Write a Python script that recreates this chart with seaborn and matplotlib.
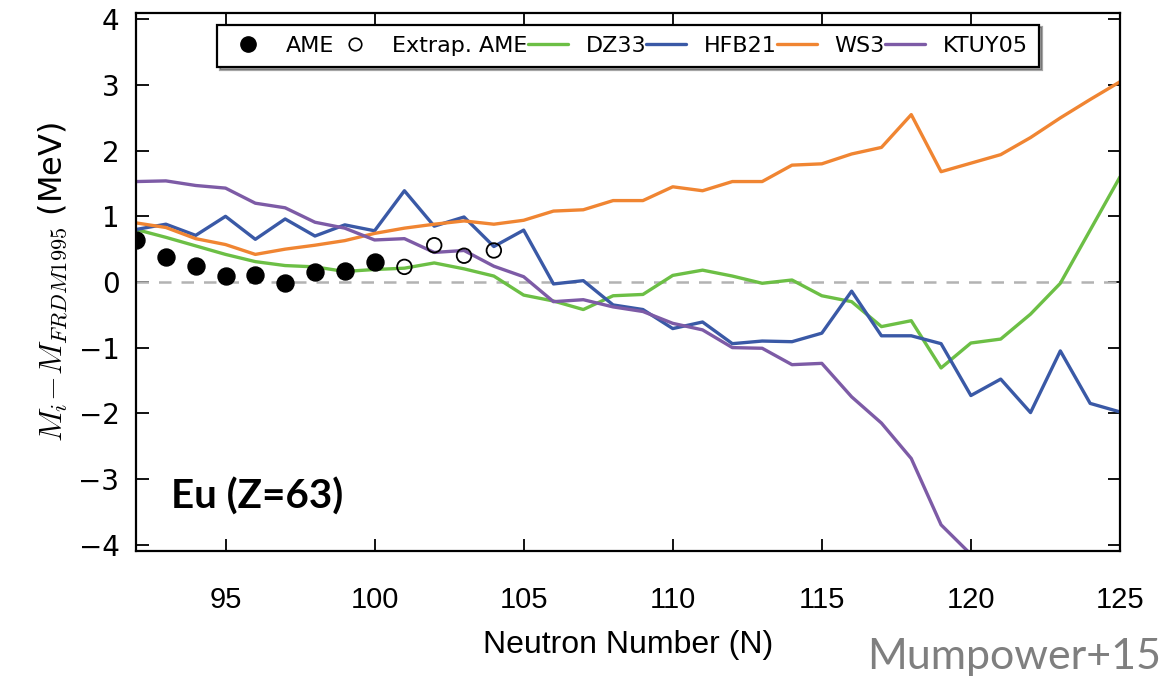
import numpy as np
import pandas as pd
import matplotlib
matplotlib.use("Agg")
import matplotlib.pyplot as plt
from matplotlib.lines import Line2D
import seaborn as sns

# Data (mass differences in MeV vs neutron number)
n_models = list(range(92, 126))
dz33 = [0.80, 0.68, 0.55, 0.42, 0.31, 0.25, 0.23, 0.16, 0.19, 0.21, 0.29, 0.20,
        0.09, -0.20, -0.29, -0.42, -0.21, -0.19, 0.10, 0.18, 0.09, -0.02, 0.03,
        -0.21, -0.30, -0.68, -0.59, -1.31, -0.93, -0.87, -0.49, -0.02, 0.79, 1.60]
hfb21 = [0.80, 0.88, 0.71, 1.00, 0.65, 0.96, 0.70, 0.87, 0.78, 1.39, 0.85, 0.99,
         0.54, 0.79, -0.03, 0.02, -0.35, -0.42, -0.71, -0.61, -0.94, -0.90, -0.91,
         -0.78, -0.14, -0.82, -0.82, -0.94, -1.73, -1.48, -1.99, -1.05, -1.85, -1.98]
ws3 = [0.90, 0.83, 0.66, 0.57, 0.42, 0.50, 0.56, 0.63, 0.74, 0.82, 0.88, 0.93,
       0.88, 0.94, 1.08, 1.10, 1.24, 1.24, 1.45, 1.39, 1.53, 1.53, 1.78, 1.80,
       1.95, 2.05, 2.55, 1.68, 1.81, 1.94, 2.20, 2.50, 2.78, 3.05]
n_ktuy = list(range(92, 121))
ktuy05 = [1.53, 1.54, 1.47, 1.43, 1.20, 1.13, 0.91, 0.82, 0.64, 0.66, 0.45, 0.48,
          0.24, 0.08, -0.30, -0.27, -0.38, -0.45, -0.63, -0.73, -1.00, -1.01,
          -1.26, -1.24, -1.75, -2.15, -2.69, -3.70, -4.15]

ame_n = list(range(92, 101))
ame_vals = [0.64, 0.38, 0.24, 0.09, 0.11, -0.01, 0.15, 0.17, 0.30]
extrap_n = [101, 102, 103, 104]
extrap_vals = [0.23, 0.56, 0.40, 0.48]

model_names = ["DZ33", "HFB21", "WS3", "KTUY05"]
colors = {"DZ33": "#6cbf45", "HFB21": "#3a59a6", "WS3": "#f08532", "KTUY05": "#7d5ba6"}

frames = []
for name, ns, vals in [("DZ33", n_models, dz33), ("HFB21", n_models, hfb21),
                       ("WS3", n_models, ws3), ("KTUY05", n_ktuy, ktuy05)]:
    frames.append(pd.DataFrame({"N": ns, "dM": vals, "model": name}))
models_df = pd.concat(frames, ignore_index=True)
ame_df = pd.DataFrame({"N": ame_n, "dM": ame_vals})
extrap_df = pd.DataFrame({"N": extrap_n, "dM": extrap_vals})

sns.set_style("ticks")
plt.rcParams["mathtext.fontset"] = "cm"
for key in ["text.color", "axes.labelcolor", "xtick.color", "ytick.color"]:
    plt.rcParams[key] = "black"

fig = plt.figure(figsize=(11.63, 6.77), dpi=100)
ax = fig.add_axes([0.117, 0.186, 0.846, 0.795])

ax.axhline(0, color="#b3b3b3", lw=1.8, ls=(0, (5, 4)), zorder=1)

sns.lineplot(data=models_df, x="N", y="dM", hue="model", hue_order=model_names,
             palette=colors, lw=2.4, legend=False, ax=ax, zorder=2)
sns.scatterplot(data=ame_df, x="N", y="dM", color="black", s=150,
                edgecolor="black", ax=ax, zorder=3)
sns.scatterplot(data=extrap_df, x="N", y="dM", facecolor="none", s=110,
                edgecolor="black", linewidth=1.3, ax=ax, zorder=3)

ax.set_xlim(92, 125)
ax.set_ylim(-4.1, 4.1)
ax.set_xticks([95, 100, 105, 110, 115, 120, 125])
ax.set_yticks(range(-4, 5))

for sp in ax.spines.values():
    sp.set_linewidth(1.6)
    sp.set_color("black")
ax.tick_params(direction="in", top=True, right=True, length=9, width=1.3)
ax.tick_params(axis="y", labelsize=20, pad=12)
ax.tick_params(axis="x", labelsize=21, pad=25)
for lab in ax.get_xticklabels():
    lab.set_family(["Liberation Sans Narrow", "Liberation Sans"])

ax.set_xlabel("Neutron Number (N)", fontsize=23, labelpad=12,
              family=["Liberation Sans Narrow", "Liberation Sans"])
ax.set_ylabel(r"$M_i\!-\!M_{FRDM1995}$ (MeV)", fontsize=23, labelpad=6)

ax.text(0.036, 0.102, "Eu (Z=63)", transform=ax.transAxes, fontsize=29,
        fontweight="bold", family="Lato", ha="left", va="center")
fig.text(0.998, 0.03, "Mumpower+15", fontsize=31, color="#7f7f7f",
         family="Lato", ha="right", va="center")

handles = [
    Line2D([], [], marker="o", color="black", ls="none", markersize=11),
    Line2D([], [], marker="o", mfc="none", mec="black", ls="none", markersize=9, mew=1.2),
]
handles += [Line2D([], [], color=colors[m], lw=2.4) for m in model_names]
labels = ["AME", "Extrap. AME"] + model_names
leg = ax.legend(handles, labels, loc="upper center", bbox_to_anchor=(0.5, 0.978),
                ncol=6, fontsize=16, frameon=True, fancybox=False, shadow=True,
                edgecolor="black", framealpha=1, borderaxespad=0,
                columnspacing=0.0, handletextpad=0.8, handlelength=1.8,
                borderpad=0.5)
leg.get_frame().set_linewidth(1.6)

fig.savefig("out.png", dpi=100)
